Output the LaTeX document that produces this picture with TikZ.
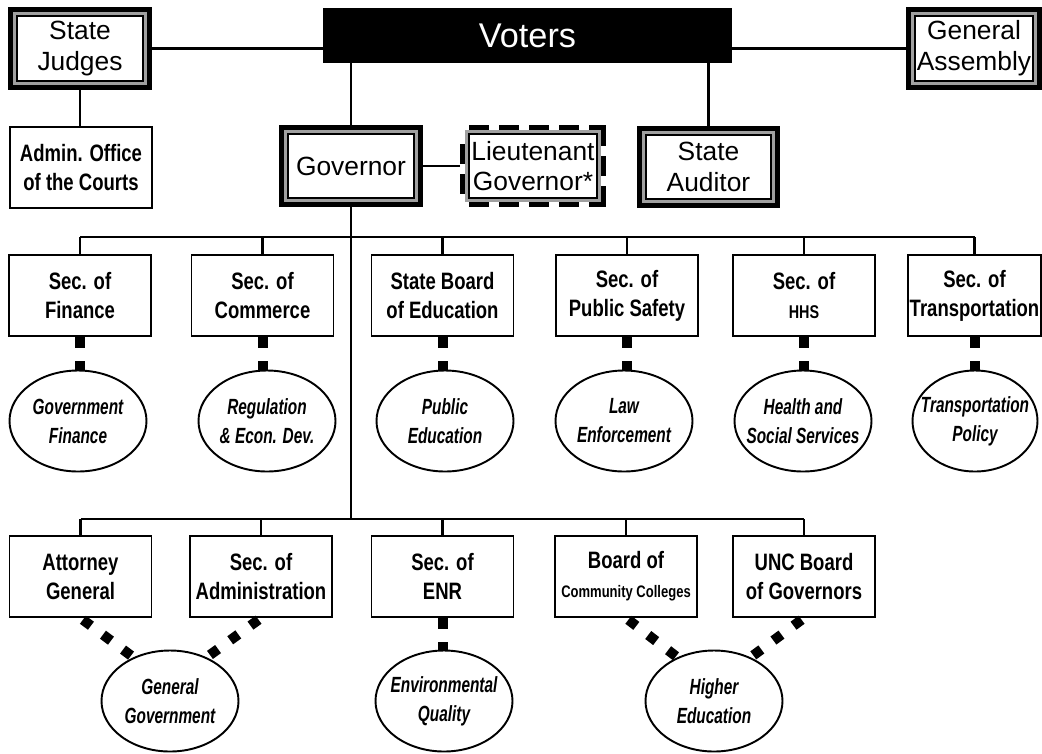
\documentclass[tikz,border=0pt]{standalone}
\usepackage{fontspec}
\setmainfont{Liberation Sans}
\newfontfamily\narrowfont[FakeStretch=0.78]{Liberation Sans}
\newfontfamily\condfont[FakeStretch=0.7]{Liberation Sans}
\usepackage{tikz}
\usetikzlibrary{calc, positioning, shapes.geometric}
\definecolor{midgrey}{RGB}{160,160,160}

\begin{document}
\begin{tikzpicture}[
  font=\fontsize{15}{17.5}\selectfont,
  link/.style={line width=1.4pt},
  framed/.style={draw=black, line width=0.6pt, fill=white, inner sep=0pt, outer sep=5.1pt, align=center, minimum width=2.52cm, minimum height=1.3cm},
  elect/.style={framed, preaction={draw=black, line width=10.2pt}, preaction={draw=midgrey, line width=5.1pt}},
  ltbox/.style={framed, preaction={draw=black, line width=10.2pt, dash pattern=on 0.4cm off 0.2cm}, preaction={draw=midgrey, line width=5.1pt}},
  office/.style={draw, line width=1.1pt, fill=white, inner sep=0pt, align=center, minimum width=2.84cm, minimum height=1.62cm, font=\narrowfont\bfseries\fontsize{13.5}{16.5}\selectfont},
  area/.style={ellipse, draw, line width=1.1pt, fill=white, inner sep=0pt, inner xsep=-12pt, minimum width=2.74cm, minimum height=2.02cm, align=center, font=\condfont\bfseries\itshape\fontsize{12.5}{16.5}\selectfont},
  sq/.style={line width=0.2cm, dash pattern=on 0.22cm off 0.27cm},
  diam/.style={line width=0.2cm, dash pattern=on 0.2cm off 0.3cm, shorten <=0.06cm}
]
\useasboundingbox (0,0) rectangle (20.84,-15.06);

% elected offices
\node[fill=black, text=white, minimum width=8.18cm, minimum height=1.1cm, font=\fontsize{19.5}{22}\selectfont] (voters) at (10.55,-0.71) {Voters};
\node[elect] (judges) at (1.6,-0.97) {State\\Judges};
\node[elect, minimum width=2.36cm] (assembly) at (19.48,-0.97) {General\\Assembly};
\node[office] (aoc) at (1.62,-3.35) {Admin. Office\\of the Courts};
\node[elect, minimum height=1.28cm] (gov) at (7.02,-3.32) {Governor};
\node[ltbox, minimum width=2.56cm, minimum height=1.28cm] (ltgov) at (10.66,-3.32) {Lieutenant\\Governor*};
\node[elect, minimum width=2.5cm, minimum height=1.28cm] (auditor) at (14.17,-3.34) {State\\Auditor};

\coordinate (bus1) at (0,-4.74);
\coordinate (bus2) at (0,-10.38);

% first row
\node[office] (fin) at (1.6,-5.91)   {Sec. of\\Finance};
\node[office] (com) at (5.25,-5.91)  {Sec. of\\Commerce};
\node[office] (sbe) at (8.85,-5.91)  {State Board\\of Education};
\node[office] (psf) at (12.54,-5.91) {Sec. of\\Public Safety};
\node[office] (hhs) at (16.08,-5.91) {Sec. of\\{\fontsize{10.5}{16.5}\selectfont HHS}};
\node[office, minimum width=2.66cm] (trn) at (19.49,-5.91) {Sec. of\\Transportation};

\node[area] (gfin) at (1.56,-8.42)  {Government\\Finance};
\node[area] (reg)  at (5.34,-8.42)  {Regulation\\\&\ Econ. Dev.};
\node[area] (ped)  at (8.9,-8.42)   {Public\\Education};
\node[area] (law)  at (12.48,-8.42) {Law\\Enforcement};
\node[area] (hss)  at (16.06,-8.42) {Health and\\Social Services};
\node[area, minimum width=2.5cm] (tpol) at (19.5,-8.42) {Transportation\\Policy};

% second row
\node[office] (ag)  at (1.61,-11.53)  {Attorney\\General};
\node[office] (adm) at (5.22,-11.53)  {Sec. of\\Administration};
\node[office] (enr) at (8.85,-11.53)  {Sec. of\\ENR};
\node[office] (ccb) at (12.52,-11.53) {Board of\\{\fontsize{9.5}{16.5}\selectfont Community Colleges}};
\node[office] (unc) at (16.08,-11.53) {UNC Board\\of Governors};

\node[area] (ggov) at (3.4,-14.02)   {General\\Government};
\node[area] (envq) at (8.88,-14.02)  {Environmental\\Quality};
\node[area] (hed)  at (14.28,-14.02) {Higher\\Education};

% lines
\draw[link] (judges.east) -- (judges.east -| voters.west);
\draw[link] (voters.east |- assembly.west) -- (assembly.west);
\draw[link] (judges.south) -- (judges.south |- aoc.north);
\draw[link] (gov.north) -- (gov.north |- voters.south);
\draw[link] (auditor.north) -- (auditor.north |- voters.south);
\draw[link] (gov.east) -- (ltgov.west);
\draw[link] (gov.south) -- (gov.south |- bus2);
\draw[link] (fin.north |- bus1) -- (trn.north |- bus1);
\draw[link] (ag.north |- bus2) -- (unc.north |- bus2);
\foreach \n in {fin,com,sbe,psf,hhs,trn}
  \draw[link] (\n.north) -- (\n.north |- bus1);
\foreach \n in {ag,adm,enr,ccb,unc}
  \draw[link] (\n.north) -- (\n.north |- bus2);

\foreach \a/\b in {fin/gfin, com/reg, sbe/ped, psf/law, hhs/hss, trn/tpol, enr/envq}
  \draw[sq] (\a.south) -- (\a.south |- \b.north);

\draw[diam] (ag.south) -- (ggov.130);
\draw[diam] (adm.south) -- (ggov.50);
\draw[diam] (ccb.south) -- (hed.130);
\draw[diam] (unc.south) -- (hed.50);
\end{tikzpicture}
\end{document}
